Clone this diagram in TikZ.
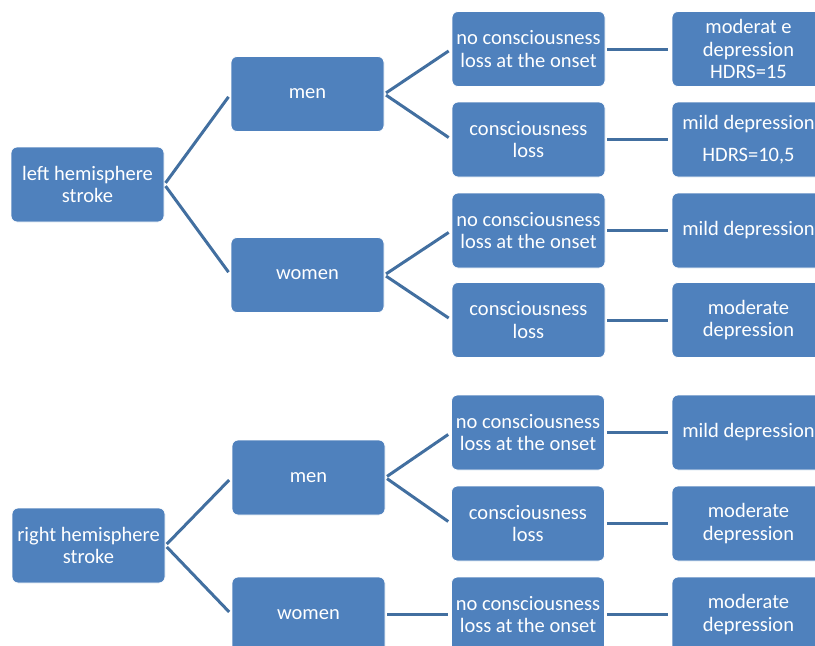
\documentclass[tikz,border=0pt]{standalone}
\usepackage{fontspec}
\setmainfont{Carlito}
\definecolor{boxfill}{RGB}{79,129,189}
\definecolor{linkcol}{RGB}{66,111,160}
\begin{document}
\begin{tikzpicture}[x=1pt,y=-1pt,
  box/.style={draw=white, line width=0.8pt, fill=boxfill, rounded corners=6pt,
    minimum width=153pt, minimum height=75pt, inner sep=0pt, align=center,
    text=white, font=\fontsize{20.5}{22.5}\selectfont},
  link/.style={draw=linkcol, line width=3pt, shorten <=2pt, shorten >=3.5pt}]
\useasboundingbox (0,0) rectangle (815,646);
\clip (0,0) rectangle (815,646);
% top tree
\node[box] (lh) at (87.5,184.5) {left hemisphere\\stroke};
\node[box] (m1) at (307.5,94) {men};
\node[box] (w1) at (307.5,275) {women};
\node[box] (c1) at (528.5,49) {no consciousness\\loss at the onset};
\node[box] (c2) at (528.5,139.5) {consciousness\\loss};
\node[box] (c3) at (528.5,230.5) {no consciousness\\loss at the onset};
\node[box] (c4) at (528.5,320) {consciousness\\loss};
\node[box] (d1) at (748.5,49) {moderat e\\depression\\HDRS=15};
\node[box] (d2) at (748.5,139.5) {mild depression\\[9pt]HDRS=10,5};
\node[box] (d3) at (748.5,230.5) {mild depression};
\node[box] (d4) at (748.5,320) {moderate\\depression};
% bottom tree
\node[box] (rh) at (88.5,545.5) {right hemisphere\\stroke};
\node[box] (m2) at (308.5,477.5) {men};
\node[box] (w2) at (308.5,614.5) {women};
\node[box] (c5) at (528,432.5) {no consciousness\\loss at the onset};
\node[box] (c6) at (528,523.5) {consciousness\\loss};
\node[box] (c7) at (528,614.5) {no consciousness\\loss at the onset};
\node[box] (d5) at (748.5,432.5) {mild depression};
\node[box] (d6) at (748.5,523.5) {moderate\\depression};
\node[box] (d7) at (748.5,614.5) {moderate\\depression};
% connectors
\draw[link] (lh.east) -- (m1.west);
\draw[link] (lh.east) -- (w1.west);
\draw[link] (m1.east) -- (c1.west);
\draw[link] (m1.east) -- (c2.west);
\draw[link] (w1.east) -- (c3.west);
\draw[link] (w1.east) -- (c4.west);
\draw[link] (c1.east) -- (d1.west);
\draw[link] (c2.east) -- (d2.west);
\draw[link] (c3.east) -- (d3.west);
\draw[link] (c4.east) -- (d4.west);
\draw[link] (rh.east) -- (m2.west);
\draw[link] (rh.east) -- (w2.west);
\draw[link] (m2.east) -- (c5.west);
\draw[link] (m2.east) -- (c6.west);
\draw[link] (w2.east) -- (c7.west);
\draw[link] (c5.east) -- (d5.west);
\draw[link] (c6.east) -- (d6.west);
\draw[link] (c7.east) -- (d7.west);
\end{tikzpicture}
\end{document}
